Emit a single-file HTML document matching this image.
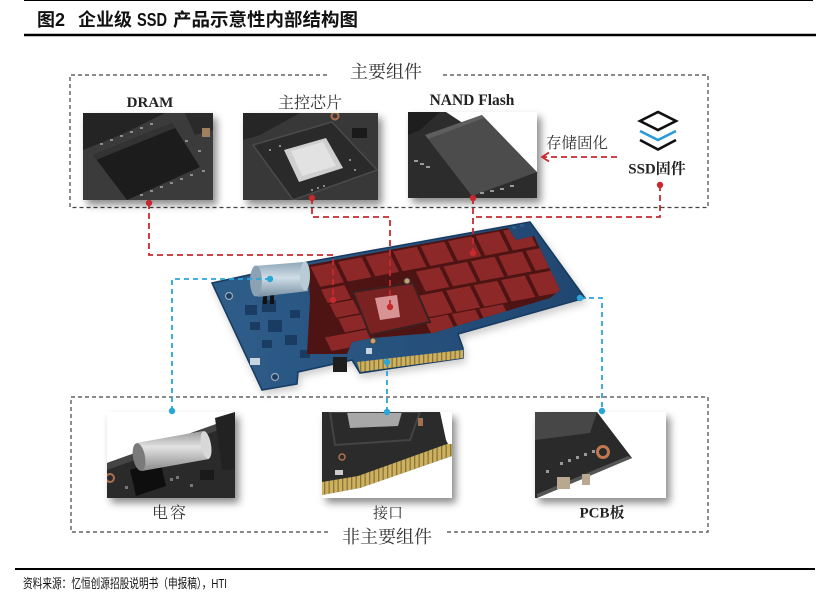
<!DOCTYPE html>
<html><head><meta charset="utf-8"><style>
html,body{margin:0;padding:0;background:#fff;}
svg{display:block;}
</style></head><body>
<svg width="833" height="607" viewBox="0 0 833 607" xmlns="http://www.w3.org/2000/svg">
<defs>
<filter id="sh" x="-15%" y="-15%" width="140%" height="150%"><feDropShadow dx="4" dy="5" stdDeviation="4" flood-color="#000" flood-opacity="0.45"/></filter>
<filter id="sh2" x="-10%" y="-10%" width="130%" height="140%"><feDropShadow dx="2" dy="4" stdDeviation="4" flood-color="#000" flood-opacity="0.2"/></filter>
<clipPath id="cD"><rect x="83" y="113" width="130" height="87"/></clipPath>
<clipPath id="cC"><rect x="243" y="113" width="135" height="87"/></clipPath>
<clipPath id="cN"><rect x="408" y="112" width="129" height="86"/></clipPath>
<clipPath id="cCap"><rect x="107" y="412" width="128" height="86"/></clipPath>
<clipPath id="cI"><rect x="322" y="412" width="130" height="86"/></clipPath>
<clipPath id="cP"><rect x="535" y="412" width="131" height="86"/></clipPath>
<clipPath id="cRed"><polygon points="308,265 508,228 516,240 534,236 560,290 550,298 433,333 372,338 352,342 347,354 307,354 310,300"/></clipPath>
<pattern id="gold" width="4.5" height="40" patternUnits="userSpaceOnUse"><rect width="4.5" height="40" fill="#cdb060"/><rect width="1.3" height="40" fill="#8a7638"/></pattern>
<linearGradient id="capg" x1="0" y1="0" x2="0" y2="1"><stop offset="0" stop-color="#8fa7b8"/><stop offset="0.45" stop-color="#cfdde6"/><stop offset="1" stop-color="#7890a2"/></linearGradient>
<linearGradient id="capg2" x1="0" y1="0" x2="0" y2="1"><stop offset="0" stop-color="#9a9a9a"/><stop offset="0.4" stop-color="#e2e2e2"/><stop offset="1" stop-color="#8a8a8a"/></linearGradient>
<linearGradient id="board" x1="0" y1="0" x2="1" y2="0"><stop offset="0" stop-color="#2f5d8a"/><stop offset="1" stop-color="#1f4670"/></linearGradient>
</defs>

<line x1="24" y1="0.5" x2="813" y2="0.5" stroke="#000" stroke-width="1"/>
<text x="37" y="26" font-family="'Liberation Sans','Noto Sans CJK SC',sans-serif" font-weight="bold" font-size="18" fill="#111">图2</text>
<text x="78" y="26" font-family="'Liberation Sans','Noto Sans CJK SC',sans-serif" font-weight="bold" font-size="18" fill="#111" textLength="54" lengthAdjust="spacingAndGlyphs">企业级</text>
<text x="137" y="26" font-family="'Liberation Sans','Noto Sans CJK SC',sans-serif" font-weight="bold" font-size="18" fill="#111" textLength="30" lengthAdjust="spacingAndGlyphs">SSD</text>
<text x="173" y="26" font-family="'Liberation Sans','Noto Sans CJK SC',sans-serif" font-weight="bold" font-size="18" fill="#111" textLength="185" lengthAdjust="spacingAndGlyphs">产品示意性内部结构图</text>
<line x1="24" y1="35" x2="816" y2="35" stroke="#000" stroke-width="2.5"/>
<line x1="15" y1="569" x2="815" y2="569" stroke="#000" stroke-width="2"/>
<text x="23" y="588" font-family="'Liberation Sans','Noto Sans CJK SC',sans-serif" font-size="13" fill="#111" textLength="204" lengthAdjust="spacingAndGlyphs">资料来源：忆恒创源招股说明书（申报稿），HTI</text>

<g stroke="#444" stroke-width="1.2" stroke-dasharray="4 3" fill="none">
<path d="M327,75 H70 V207.5 H708 V75 H443"/>
<path d="M328,532 H71 V397 H708 V532 H447"/>
</g>
<text x="386" y="78" text-anchor="middle" font-family="'Liberation Serif','Noto Serif CJK SC',serif" font-size="18" fill="#333">主要组件</text>
<text x="387" y="543" text-anchor="middle" font-family="'Liberation Serif','Noto Serif CJK SC',serif" font-size="18" fill="#333">非主要组件</text>

<text x="150" y="107" text-anchor="middle" font-family="'Liberation Serif',serif" font-weight="bold" font-size="15" fill="#222">DRAM</text>
<text x="310" y="108" text-anchor="middle" font-family="'Liberation Serif','Noto Serif CJK SC',serif" font-size="16" fill="#333">主控芯片</text>
<text x="472" y="105" text-anchor="middle" font-family="'Liberation Serif',serif" font-weight="bold" font-size="15.5" fill="#222">NAND Flash</text>
<text x="577" y="148" text-anchor="middle" font-family="'Liberation Serif','Noto Serif CJK SC',serif" font-size="15.5" fill="#333">存储固化</text>
<text x="657" y="173.5" text-anchor="middle" font-family="'Liberation Serif','Noto Serif CJK SC',serif" font-weight="bold" font-size="15" fill="#222">SSD固件</text>

<g fill="none" stroke-width="2.6" stroke-linejoin="miter">
<polygon points="640,121 658,112 676,121 658,130" stroke="#111"/>
<polyline points="640,131 658,140 676,131" stroke="#2b9ad6"/>
<polyline points="640,140 658,149.5 676,140" stroke="#111"/>
</g>

<rect x="83" y="113" width="130" height="87" fill="#333" filter="url(#sh)"/>
<g clip-path="url(#cD)">
<rect x="83" y="113" width="130" height="87" fill="#3b3b3b"/>
<polygon points="83,113 165,113 125,133 83,150" fill="#242424"/>
<polygon points="185,113 213,113 213,130 195,135" fill="#2a2a2a"/>
<polygon points="93,155 172,123 200,167 127,200" fill="#1c1c1c"/>
<polygon points="93,155 172,123 175,128 96,160" fill="#333"/>
<g fill="#8d8d8d">
<rect x="100" y="143" width="3" height="2"/><rect x="110" y="139" width="3" height="2"/><rect x="120" y="135" width="3" height="2"/><rect x="130" y="131" width="3" height="2"/><rect x="140" y="127" width="3" height="2"/><rect x="150" y="123" width="3" height="2"/>
<rect x="140" y="194" width="3" height="2"/><rect x="150" y="190" width="3" height="2"/><rect x="160" y="186" width="3" height="2"/><rect x="170" y="182" width="3" height="2"/><rect x="180" y="178" width="3" height="2"/><rect x="190" y="174" width="3" height="2"/><rect x="202" y="170" width="3" height="2"/>
<rect x="185" y="140" width="3" height="2"/><rect x="198" y="150" width="3" height="2"/>
</g>
<rect x="202" y="128" width="8" height="9" fill="#a08060"/>
</g>

<rect x="243" y="113" width="135" height="87" fill="#333" filter="url(#sh)"/>
<g clip-path="url(#cC)">
<rect x="243" y="113" width="135" height="87" fill="#383838"/>
<polygon points="243,113 300,113 260,135 243,140" fill="#262626"/>
<polygon points="253,145 332,122 377,170 293,200" fill="#2a2a2a" stroke="#4a4a4a" stroke-width="1.5"/>
<polygon points="284,150 326,138 343,168 299,182" fill="#cfcfcf"/>
<polygon points="291,151 323,142 336,166 302,176" fill="#e2e2e2"/>
<g fill="#aaa"><circle cx="270" cy="150" r="1"/><circle cx="280" cy="146" r="1"/><circle cx="312" cy="190" r="1"/><circle cx="318" cy="188" r="1"/><circle cx="324" cy="186" r="1"/><circle cx="350" cy="160" r="1"/><circle cx="355" cy="170" r="1"/></g>
<circle cx="335" cy="116" r="3.5" fill="none" stroke="#b07050" stroke-width="2"/>
<rect x="352" y="128" width="15" height="10" fill="#1a1a1a"/>
</g>

<rect x="408" y="112" width="129" height="86" fill="#555" filter="url(#sh)"/>
<g clip-path="url(#cN)">
<rect x="408" y="112" width="129" height="86" fill="#2c2c2c"/>
<polygon points="446,112 537,112 537,172" fill="#fff"/>
<polygon points="425,135 482,115 537,172 472,196" fill="#4c4c4c"/>
<polygon points="425,135 482,115 484,118 428,139" fill="#5e5e5e"/>
<polygon points="408,112 440,112 420,130 408,135" fill="#1e1e1e"/>
<g fill="#999"><rect x="414" y="160" width="4" height="2"/><rect x="420" y="163" width="4" height="2"/><rect x="426" y="166" width="4" height="2"/><rect x="480" y="192" width="4" height="2"/><rect x="490" y="190" width="4" height="2"/><rect x="500" y="188" width="4" height="2"/><rect x="510" y="185" width="4" height="2"/></g>
</g>

<rect x="107" y="412" width="128" height="86" fill="#fff" filter="url(#sh)"/>
<g clip-path="url(#cCap)">
<rect x="107" y="412" width="128" height="86" fill="#fff"/>
<polygon points="107,463 233,418 235,418 235,498 107,498" fill="#2a2a2a"/>
<polygon points="107,463 233,418 235,424 107,470" fill="#444"/>
<polygon points="215,418 235,412 235,470 222,470" fill="#222"/>
<circle cx="110" cy="478" r="4" fill="none" stroke="#b07050" stroke-width="2"/>
<polygon points="130,470 160,460 166,486 136,496" fill="#0e0e0e"/>
<polygon points="136,443 203,431 209,459 142,471" fill="url(#capg2)"/>
<ellipse cx="139" cy="457" rx="6" ry="14" transform="rotate(-10 139 457)" fill="#7a7a7a"/>
<ellipse cx="206" cy="445" rx="5" ry="14" transform="rotate(-10 206 445)" fill="#d8d8d8"/>
<g fill="#777"><rect x="170" y="478" width="3" height="3"/><rect x="176" y="476" width="3" height="3"/><rect x="190" y="484" width="3" height="3"/><rect x="125" y="486" width="3" height="3"/></g>
<rect x="200" y="470" width="14" height="10" fill="#1a1a1a"/>
</g>

<rect x="322" y="412" width="130" height="86" fill="#fff" filter="url(#sh)"/>
<g clip-path="url(#cI)">
<rect x="322" y="412" width="130" height="86" fill="#2b2b2b"/>
<polygon points="347,412 402,412 398,426 350,428" fill="#a8a8a8"/>
<polygon points="330,412 420,412 410,440 335,445" fill="none" stroke="#444" stroke-width="2"/>
<polygon points="440,412 452,412 452,452 446,440" fill="#fff"/>
<polygon points="322,482 358,476 447,444 452,444 452,456 360,488 322,495" fill="url(#gold)"/>
<polygon points="322,495 360,488 452,456 452,498 322,498" fill="#fff"/>
<circle cx="342" cy="457" r="3" fill="none" stroke="#b07050" stroke-width="1.5"/>
<rect x="335" y="470" width="8" height="5" fill="#ccc"/>
<rect x="418" y="418" width="5" height="8" fill="#a07050"/>
</g>

<rect x="535" y="412" width="131" height="86" fill="#fff" filter="url(#sh)"/>
<g clip-path="url(#cP)">
<rect x="535" y="412" width="131" height="86" fill="#fff"/>
<polygon points="535,412 597,412 632,458 537,498 535,498" fill="#2a2a2a"/>
<polygon points="632,458 537,498 537,494 628,456" fill="#555"/>
<polygon points="535,412 597,412 590,433 535,440" fill="#474747"/>
<rect x="557" y="477" width="13" height="12" fill="#b8a890"/>
<rect x="582" y="474" width="8" height="11" fill="#b8a890"/>
<g fill="#999"><rect x="560" y="462" width="3" height="3"/><rect x="568" y="459" width="3" height="3"/><rect x="576" y="456" width="3" height="3"/><rect x="584" y="453" width="3" height="3"/><rect x="592" y="450" width="3" height="3"/><rect x="546" y="470" width="3" height="3"/></g>
<circle cx="603" cy="452" r="5.5" fill="#2a2a2a" stroke="#c07850" stroke-width="3"/>
</g>

<g filter="url(#sh2)">
<polygon points="212,283 308,262 530,222 585,298 458,334 463,348 463,358 360,373 352,360 298,372 297,384 262,390" fill="url(#board)" stroke="#183a60" stroke-width="1.5"/>
</g>
<g fill="#1a3c62">
<rect x="245" y="305" width="12" height="10"/><rect x="262" y="300" width="14" height="12"/><rect x="250" y="322" width="10" height="8"/><rect x="268" y="320" width="14" height="12"/><rect x="285" y="335" width="12" height="10"/><rect x="262" y="340" width="10" height="8"/><rect x="290" y="310" width="10" height="8"/><rect x="300" y="350" width="10" height="8"/>
</g>
<circle cx="229" cy="296" r="3.5" fill="#1c3c60" stroke="#9ab" stroke-width="1.2"/>
<circle cx="275" cy="377" r="3.5" fill="#1c3c60" stroke="#9ab" stroke-width="1.2"/>
<rect x="250" y="358" width="10" height="7" fill="#c8d4e0"/>
<polygon points="308,265 508,228 516,240 534,236 560,290 550,298 433,333 372,338 352,342 347,354 307,354 310,300" fill="#4e1414"/>
<g clip-path="url(#cRed)">
<g transform="matrix(27.5,-5.2,11,22.5,308,266)" fill="#8c2828">
<rect x="0.07" y="0.06" width="0.86" height="0.88"/><rect x="1.07" y="0.06" width="0.86" height="0.88"/><rect x="2.07" y="0.06" width="0.86" height="0.88"/><rect x="3.07" y="0.06" width="0.86" height="0.88"/><rect x="4.07" y="0.06" width="0.86" height="0.88"/><rect x="5.07" y="0.06" width="0.86" height="0.88"/><rect x="6.07" y="0.06" width="0.86" height="0.88"/><rect x="7.07" y="0.06" width="0.86" height="0.88"/>
<rect x="3.5" y="1.06" width="0.86" height="0.88"/><rect x="4.5" y="1.06" width="0.86" height="0.88"/><rect x="5.5" y="1.06" width="0.86" height="0.88"/><rect x="6.5" y="1.06" width="0.86" height="0.88"/><rect x="7.5" y="1.06" width="0.86" height="0.88"/>
<rect x="3.2" y="2.06" width="0.86" height="0.95"/><rect x="4.2" y="2.06" width="0.86" height="0.95"/><rect x="5.2" y="2.06" width="0.86" height="0.95"/><rect x="6.2" y="2.06" width="0.86" height="0.95"/><rect x="7.2" y="2.06" width="0.86" height="0.95"/>
<rect x="3.0" y="3.06" width="0.86" height="0.9"/><rect x="4.0" y="3.06" width="0.86" height="0.9"/><rect x="5.0" y="3.06" width="0.86" height="0.9"/>
<rect x="0.05" y="1.06" width="0.85" height="0.6"/><rect x="0.1" y="1.72" width="0.85" height="0.6"/><rect x="0.15" y="2.38" width="0.85" height="0.6"/><rect x="-0.6" y="3.04" width="1.5" height="0.6"/>
</g>
</g>
<polygon points="353,292 413,283 430,322 370,335" fill="#7a2222" stroke="#3c2020" stroke-width="2"/>
<polygon points="375,298 397,295 400,317 380,320" fill="#d89494"/>
<circle cx="407" cy="281" r="3" fill="#c8a070" stroke="#444" stroke-width="1"/>
<circle cx="373" cy="341" r="3" fill="#c8a070" stroke="#444" stroke-width="1"/>
<polygon points="357,362 463,350 463,358 360,372" fill="url(#gold)"/>
<rect x="333" y="357" width="14" height="15" fill="#1e1e1e"/>
<rect x="366" y="348" width="6" height="6" fill="#c8d4e0"/>
<g fill="#2a5a8a"><rect x="512" y="226" width="4" height="3"/><rect x="520" y="224" width="4" height="3"/></g>
<rect x="263" y="288" width="4" height="16" fill="#111"/><rect x="270" y="288" width="4" height="16" fill="#111"/>
<polygon points="254,266 304,262 308,291 258,297" fill="url(#capg)"/>
<ellipse cx="256" cy="281" rx="6" ry="15.5" fill="#8aa2b4"/>
<ellipse cx="305" cy="276" rx="5" ry="14.5" fill="#b8ccd8"/>

<g stroke="#c62a2f" stroke-width="1.8" stroke-dasharray="6 4" fill="none">
<path d="M149,203 V255 H333 V300"/>
<path d="M312,198 V217 H390 V307"/>
<path d="M473,198 V253"/>
<path d="M660,185 V217 H473"/>
<path d="M617,157 H544"/>
</g>
<polyline points="549,152.5 542,157 549,161.5" fill="none" stroke="#c62a2f" stroke-width="1.8"/>
<g fill="#c62a2f">
<circle cx="149" cy="203" r="3.2"/><circle cx="333" cy="300" r="3.2"/><circle cx="312" cy="198" r="3.2"/><circle cx="390" cy="307" r="3.2"/><circle cx="473" cy="198" r="3.2"/><circle cx="473" cy="253" r="3.2"/><circle cx="660" cy="185" r="3.2"/>
</g>

<g stroke="#2aa6d8" stroke-width="1.8" stroke-dasharray="5 4" fill="none">
<path d="M270,279 H172 V411"/>
<path d="M387,362 V412"/>
<path d="M580,298 H602 V411"/>
</g>
<g fill="#2aa6d8">
<circle cx="270" cy="279" r="3.2"/><circle cx="172" cy="411" r="3.2"/><circle cx="387" cy="362" r="3.2"/><circle cx="387" cy="412" r="3.2"/><circle cx="580" cy="298" r="3.2"/><circle cx="602" cy="411" r="3.2"/>
</g>

<text x="170" y="518" text-anchor="middle" font-family="'Liberation Serif','Noto Serif CJK SC',serif" font-size="16" fill="#333" letter-spacing="2">电容</text>
<text x="388" y="518" text-anchor="middle" font-family="'Liberation Serif','Noto Serif CJK SC',serif" font-size="15" fill="#333">接口</text>
<text x="602" y="517.5" text-anchor="middle" font-family="'Liberation Serif','Noto Serif CJK SC',serif" font-weight="bold" font-size="15" fill="#222">PCB板</text>
</svg>
</body></html>
